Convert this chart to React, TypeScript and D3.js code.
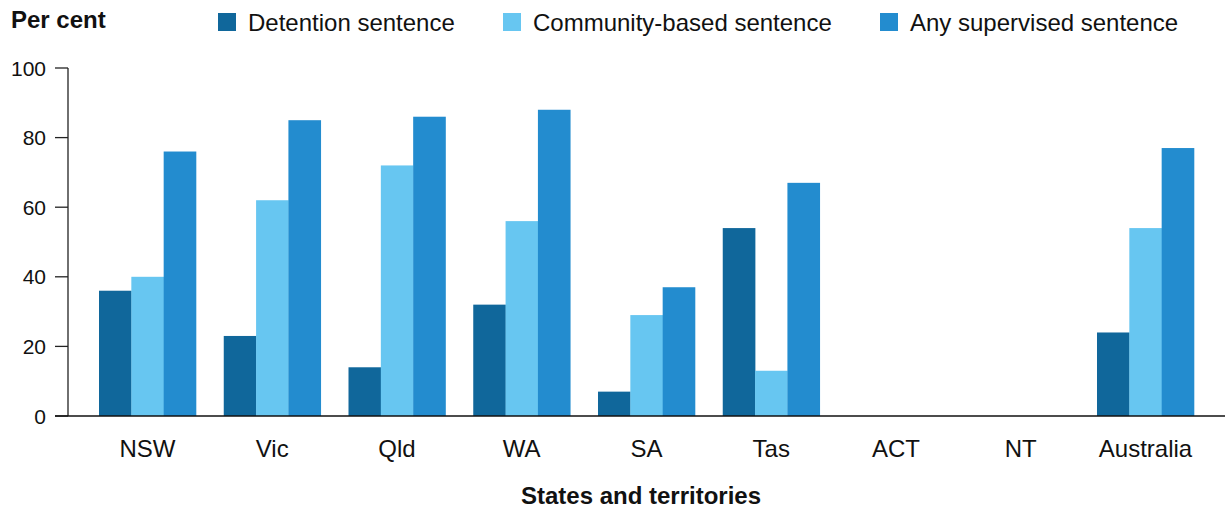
import { useEffect, useRef } from "react";
import * as d3 from "d3";

const categories = ["NSW", "Vic", "Qld", "WA", "SA", "Tas", "ACT", "NT", "Australia"];
const seriesNames = ["Detention sentence", "Community-based sentence", "Any supervised sentence"];
const detention = [36, 23, 14, 32, 7, 54, null, null, 24];
const community = [40, 62, 72, 56, 29, 13, null, null, 54];
const anySupervised = [76, 85, 86, 88, 37, 67, null, null, 77];
const yTicks = [0, 20, 40, 60, 80, 100];

const COLORS = ["#10679b", "#67c6f1", "#238ccf"];
const W = 1225;
const H = 509;
const FONT = "'Liberation Sans', Arial, sans-serif";

export default function App() {
  const svgRef = useRef<SVGSVGElement>(null);

  useEffect(() => {
    if (!svgRef.current) return;
    const svg = d3.select(svgRef.current);
    svg.selectAll("*").remove();

    const series = [detention, community, anySupervised];

    const x = d3
      .scaleBand<string>()
      .domain(categories)
      .range([99, 1194])
      .paddingInner(0.2224)
      .paddingOuter(0);
    const xInner = d3
      .scaleBand<number>()
      .domain([0, 1, 2])
      .range([0, x.bandwidth()]);
    const y = d3.scaleLinear().domain([0, 100]).range([416, 68]);

    // bars
    series.forEach((vals, si) => {
      svg
        .append("g")
        .selectAll("rect")
        .data(vals.map((v, i) => ({ v, c: categories[i] })).filter((d) => d.v != null))
        .join("rect")
        .attr("x", (d) => (x(d.c) as number) + (xInner(si) as number))
        .attr("width", xInner.bandwidth() + 0.3)
        .attr("y", (d) => y(d.v as number))
        .attr("height", (d) => y(0) - y(d.v as number))
        .attr("fill", COLORS[si]);
    });

    // y axis
    const yAxis = svg.append("g").attr("transform", "translate(68,0)");
    yAxis
      .append("line")
      .attr("x1", 0)
      .attr("x2", 0)
      .attr("y1", y(100))
      .attr("y2", y(0))
      .attr("stroke", "#222")
      .attr("stroke-width", 1.3);
    yTicks.forEach((t) => {
      yAxis
        .append("line")
        .attr("x1", -13)
        .attr("x2", 0)
        .attr("y1", y(t))
        .attr("y2", y(t))
        .attr("stroke", "#222")
        .attr("stroke-width", 1.3);
      yAxis
        .append("text")
        .attr("x", -22)
        .attr("y", y(t))
        .attr("dy", "0.36em")
        .attr("text-anchor", "end")
        .attr("font-family", FONT)
        .attr("font-size", 21)
        .attr("fill", "#111")
        .text(t);
    });

    // baseline
    svg
      .append("line")
      .attr("x1", 55)
      .attr("x2", W)
      .attr("y1", y(0))
      .attr("y2", y(0))
      .attr("stroke", "#111")
      .attr("stroke-width", 1.6);

    // x labels
    svg
      .append("g")
      .selectAll("text")
      .data(categories)
      .join("text")
      .attr("x", (d) => (x(d) as number) + x.bandwidth() / 2)
      .attr("y", 457)
      .attr("text-anchor", "middle")
      .attr("font-family", FONT)
      .attr("font-size", 24)
      .attr("fill", "#111")
      .text((d) => d);

    // axis titles
    svg
      .append("text")
      .attr("x", 11)
      .attr("y", 28)
      .attr("font-family", FONT)
      .attr("font-size", 24)
      .attr("font-weight", "bold")
      .attr("fill", "#111")
      .text("Per cent");
    svg
      .append("text")
      .attr("x", 641)
      .attr("y", 504)
      .attr("text-anchor", "middle")
      .attr("font-family", FONT)
      .attr("font-size", 24)
      .attr("font-weight", "bold")
      .attr("fill", "#111")
      .text("States and territories");

    // legend
    const legendX = [218, 503, 880];
    seriesNames.forEach((name, i) => {
      const g = svg.append("g").attr("transform", `translate(${legendX[i]},13)`);
      g.append("rect").attr("width", 18).attr("height", 18).attr("fill", COLORS[i]);
      g.append("text")
        .attr("x", 30)
        .attr("y", 9)
        .attr("dy", "0.36em")
        .attr("font-family", FONT)
        .attr("font-size", 24)
        .attr("fill", "#111")
        .text(name);
    });
  }, []);

  return (
    <svg
      ref={svgRef}
      width={W}
      height={H}
      style={{ display: "block", position: "absolute", left: 0, top: 0, background: "#fff" }}
    />
  );
}
